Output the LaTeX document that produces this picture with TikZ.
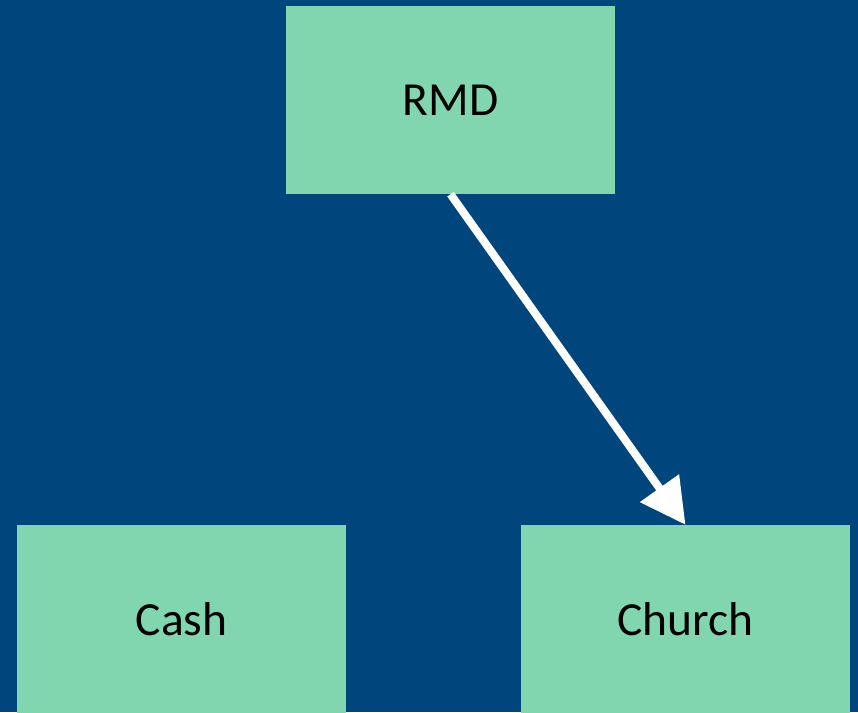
\documentclass[tikz,border=0pt]{standalone}
\usepackage{fontspec}
\setmainfont{Carlito}
\usetikzlibrary{arrows.meta}
\definecolor{bgblue}{HTML}{00457B}
\definecolor{boxgreen}{HTML}{82D6AF}
\begin{document}
\begin{tikzpicture}[x=1pt,y=-1pt,
  box/.style={fill=boxgreen,draw=none,minimum width=329pt,minimum height=188pt,inner sep=0pt,font=\fontsize{47.5}{50}\selectfont,text=black},
  flow/.style={draw=white,line width=8pt,-{Triangle[length=45pt,width=46pt]}}]
\fill[bgblue] (0,0) rectangle (858,712);
\useasboundingbox (0,0) rectangle (858,712);
\node[box] (rmd) at (450.5,100) {RMD};
\node[box] (cash) at (181.5,619) {Cash};
\node[box] (church) at (685.5,619) {Church};
\draw[flow] (rmd.south) -- (church.north);
\end{tikzpicture}
\end{document}
